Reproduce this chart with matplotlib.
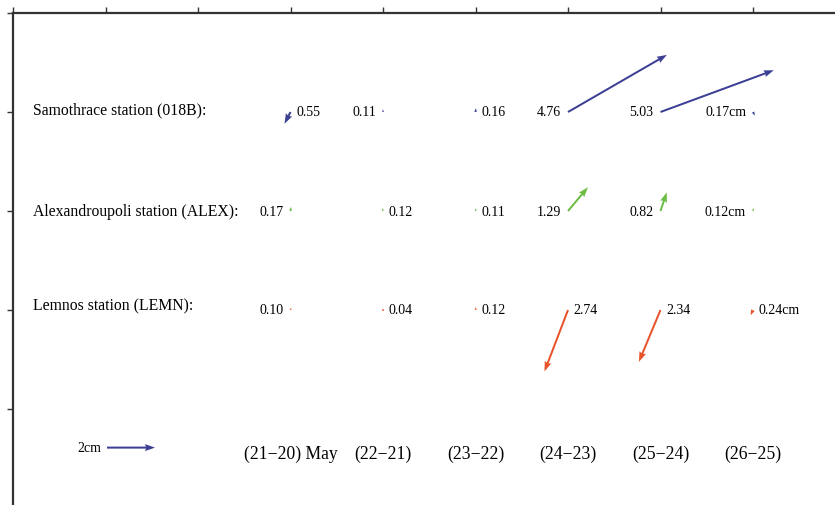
import numpy as np
import matplotlib
matplotlib.use('Agg')
import matplotlib.pyplot as plt

plt.rcParams['font.family'] = ['Liberation Serif', 'DejaVu Serif']

# station names and day pairs
stations = ['Samothrace station (018B):', 'Alexandroupoli station (ALEX):', 'Lemnos station (LEMN):']
periods = ['(21\u221220) May', '(22\u221221)', '(23\u221222)', '(24\u221223)', '(25\u221224)', '(26\u221225)']

# displacement magnitude (cm) per station and day pair
samo_mag = [0.55, 0.11, 0.16, 4.76, 5.03, 0.17]
alex_mag = [0.17, 0.12, 0.11, 1.29, 0.82, 0.12]
lemn_mag = [0.10, 0.04, 0.12, 2.74, 2.34, 0.24]

# east / north components (cm)
samo_e = [-0.25, 0.00, 0.02, 4.12, 4.72, 0.08]
samo_n = [-0.49, 0.11, 0.16, 2.38, 1.74, -0.15]
alex_e = [0.02, -0.04, 0.02, 0.83, 0.26, 0.03]
alex_n = [0.17, 0.11, 0.11, 0.99, 0.78, 0.12]
lemn_e = [0.03, 0.02, 0.02, -0.98, -0.90, -0.10]
lemn_n = [0.10, 0.03, 0.12, -2.56, -2.16, -0.22]

scale_cm = 2

colors = ['#3c3f93', '#6dbd45', '#e8532c']
# which side of the arrow the number sits on
sides = [['r', 'l', 'r', 'l', 'l', 'l'],
         ['l', 'r', 'r', 'l', 'l', 'l'],
         ['l', 'r', 'r', 'r', 'r', 'r']]

fig = plt.figure(figsize=(8.35, 5.06), dpi=100)
ax = fig.add_axes([13 / 835, 0, 822 / 835, 492 / 506])
ax.set_xlim(0, 822 / 92.5)
ax.set_ylim(492 / 99, 0)

ax.spines['right'].set_visible(False)
ax.spines['bottom'].set_visible(False)
for s in ['top', 'left']:
    ax.spines[s].set_linewidth(1.6)
    ax.spines[s].set_color('#333333')
ax.xaxis.tick_top()
ax.set_xticks(np.arange(0, 9))
ax.set_yticks(np.arange(0, 5))
ax.tick_params(direction='out', length=4, width=1, colors='#333333',
               labeltop=False, labelleft=False)

cols = np.arange(3, 9)
qkw = dict(angles='uv', scale_units='dots', scale=1 / 24, units='dots', width=2,
           headwidth=3.5, headlength=5, headaxislength=4.5, pivot='tail')

data = [(samo_mag, samo_e, samo_n), (alex_mag, alex_e, alex_n), (lemn_mag, lemn_e, lemn_n)]
label_y = [0.97, 2.0, 2.95]
for i, (mag, e, n) in enumerate(data):
    row = i + 1
    ax.quiver(cols, np.full(len(cols), row), e, n, color=colors[i], **qkw)
    ax.text(0.216, label_y[i], stations[i], ha='left', va='center', fontsize=11.3)
    for j, m in enumerate(mag):
        txt = '%.2f' % m + ('cm' if j == len(mag) - 1 else '')
        if sides[i][j] == 'l':
            ax.annotate(txt, (cols[j], row), xytext=(-5, 0), textcoords='offset points',
                        ha='right', va='center', fontsize=10)
        else:
            ax.annotate(txt, (cols[j], row), xytext=(4, 0), textcoords='offset points',
                        ha='left', va='center', fontsize=10)

for j, p in enumerate(periods):
    ax.text(cols[j], 4.45, p, ha='center', va='center', fontsize=12.7)

# scale arrow
ax.quiver([1.016], [4.39], [scale_cm], [0], color=colors[0], **qkw)
ax.annotate('%dcm' % scale_cm, (1.016, 4.39), xytext=(-4, 0), textcoords='offset points',
            ha='right', va='center', fontsize=10)

fig.savefig('out.png', dpi=100)
